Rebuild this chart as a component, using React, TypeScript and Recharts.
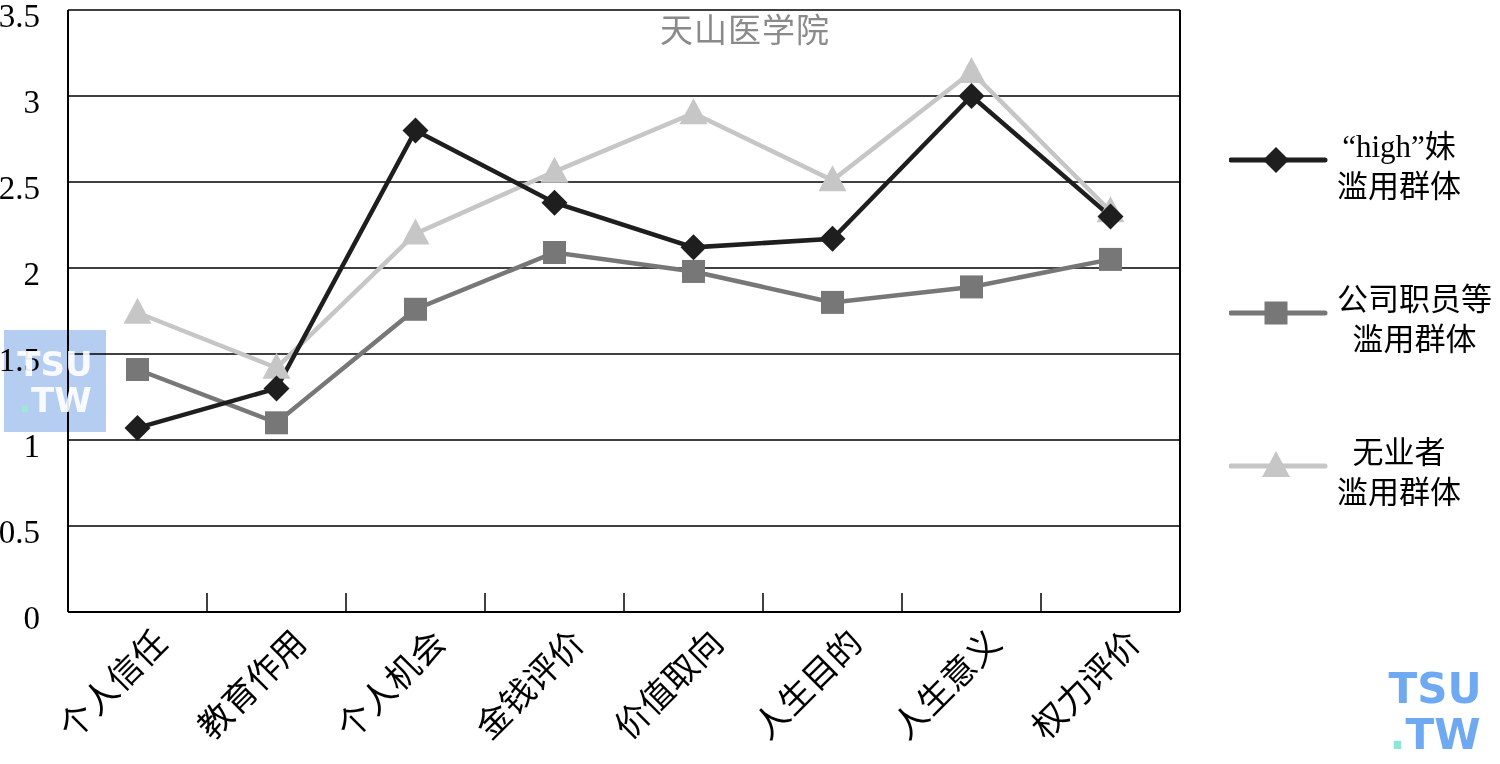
import React from "react";
import {
  LineChart,
  Line,
  XAxis,
  YAxis,
  CartesianGrid,
  Legend,
} from "recharts";

// categories on the x axis
const categories = [
  "个人信任",
  "教育作用",
  "个人机会",
  "金钱评价",
  "价值取向",
  "人生目的",
  "人生意义",
  "权力评价",
];

// series values
const highGirl = [1.07, 1.3, 2.8, 2.38, 2.12, 2.17, 3.0, 2.3];
const staff = [1.41, 1.1, 1.76, 2.09, 1.98, 1.8, 1.89, 2.05];
const jobless = [1.74, 1.42, 2.2, 2.56, 2.9, 2.51, 3.14, 2.33];

const yTicks = [0, 0.5, 1, 1.5, 2, 2.5, 3, 3.5];

const SERIF = "'Liberation Serif', 'Times New Roman', 'Noto Sans CJK SC', serif";
const BAND = 139;

const data = categories.map((name, i) => ({
  name,
  high: highGirl[i],
  staff: staff[i],
  jobless: jobless[i],
}));

type Shape = "diamond" | "square" | "triangle";

const series: {
  key: string;
  lines: string[];
  color: string;
  shape: Shape;
}[] = [
  { key: "high", lines: ["“high”妹", "滥用群体"], color: "#1e1e1e", shape: "diamond" },
  { key: "staff", lines: ["公司职员等", "滥用群体"], color: "#777777", shape: "square" },
  { key: "jobless", lines: ["无业者", "滥用群体"], color: "#c6c6c6", shape: "triangle" },
];

function markerPath(shape: Shape, cx: number, cy: number) {
  if (shape === "diamond") {
    const r = 13;
    return `M${cx},${cy - r} L${cx + r},${cy} L${cx},${cy + r} L${cx - r},${cy} Z`;
  }
  if (shape === "square") {
    const r = 11.5;
    return `M${cx - r},${cy - r} H${cx + r} V${cy + r} H${cx - r} Z`;
  }
  return `M${cx},${cy - 15} L${cx + 14},${cy + 11} L${cx - 14},${cy + 11} Z`;
}

const makeDot = (shape: Shape, color: string) => (props: any) => {
  const { cx, cy, index } = props;
  if (cx == null || cy == null) return <g key={index} />;
  return <path key={index} d={markerPath(shape, cx, cy)} fill={color} />;
};

const XTick = (props: any) => {
  const { x, y, payload, index } = props;
  const tx = x + 32;
  const ty = y + 33;
  return (
    <g>
      {index < categories.length - 1 && (
        <line
          x1={x + BAND / 2}
          x2={x + BAND / 2}
          y1={y}
          y2={y - 19}
          stroke="#000"
          strokeWidth={1.5}
        />
      )}
      <text
        x={tx}
        y={ty}
        textAnchor="end"
        fontSize={34}
        fontFamily={SERIF}
        fill="#000"
        transform={`rotate(-45, ${tx}, ${ty})`}
      >
        {payload.value}
      </text>
    </g>
  );
};

const LegendBox = () => (
  <div style={{ paddingLeft: 48, fontFamily: SERIF, fontSize: 31, color: "#000" }}>
    {series.map((s) => (
      <div
        key={s.key}
        style={{ display: "flex", alignItems: "center", height: 153 }}
      >
        <svg width={100} height={40} style={{ flex: "none" }}>
          <line x1={2} x2={96} y1={18} y2={18} stroke={s.color} strokeWidth={5} strokeLinecap="round" />
          <path d={markerPath(s.shape, 47, 18)} fill={s.color} />
        </svg>
        <div
          style={{
            display: "inline-block",
            textAlign: "center",
            lineHeight: "40px",
            marginLeft: 8,
            marginTop: 10,
            whiteSpace: "nowrap",
          }}
        >
          {s.lines.map((l) => (
            <div key={l}>{l}</div>
          ))}
        </div>
      </div>
    ))}
  </div>
);

export default function App() {
  return (
    <div
      style={{
        position: "absolute",
        left: 0,
        top: 0,
        width: 1500,
        height: 764,
        background: "#fff",
        overflow: "hidden",
      }}
    >
      <LineChart
        width={1500}
        height={764}
        data={data}
        margin={{ top: 10, right: 0, bottom: 0, left: 0 }}
      >
        <CartesianGrid vertical={false} stroke="#000" strokeWidth={1.5} />
        <XAxis
          dataKey="name"
          height={152}
          padding={{ left: BAND / 2, right: BAND / 2 }}
          tickLine={false}
          tickSize={0}
          tickMargin={0}
          interval={0}
          axisLine={{ stroke: "#000", strokeWidth: 2 }}
          tick={<XTick />}
        />
        <YAxis
          width={68}
          domain={[0, 3.5]}
          ticks={yTicks}
          interval={0}
          tickLine={false}
          tickMargin={22}
          axisLine={{ stroke: "#000", strokeWidth: 2 }}
          tick={{ fontSize: 33, fontFamily: SERIF, fill: "#000", dy: 5 }}
        />
        <YAxis
          yAxisId="r"
          orientation="right"
          width={1}
          tick={false}
          tickLine={false}
          axisLine={{ stroke: "#000", strokeWidth: 2 }}
        />
        <Legend
          layout="vertical"
          align="right"
          verticalAlign="top"
          width={319}
          wrapperStyle={{ top: 85, right: 0, width: 319 }}
          content={<LegendBox />}
        />
        <Line
          dataKey="staff"
          stroke={series[1].color}
          strokeWidth={4.5}
          dot={makeDot("square", series[1].color)}
          activeDot={false}
          isAnimationActive={false}
        />
        <Line
          dataKey="jobless"
          stroke={series[2].color}
          strokeWidth={4.5}
          dot={makeDot("triangle", series[2].color)}
          activeDot={false}
          isAnimationActive={false}
        />
        <Line
          dataKey="high"
          stroke={series[0].color}
          strokeWidth={4.5}
          dot={makeDot("diamond", series[0].color)}
          activeDot={false}
          isAnimationActive={false}
        />
      </LineChart>
      <div
        style={{
          position: "absolute",
          left: 660,
          top: 4,
          fontFamily: SERIF,
          fontSize: 33,
          color: "#8a8a8a",
          letterSpacing: 1,
        }}
      >
        天山医学院
      </div>
      <div
        style={{
          position: "absolute",
          left: 4,
          top: 330,
          width: 102,
          height: 102,
          background: "#b4cdf0",
          mixBlendMode: "multiply",
        }}
      />
      <div
        style={{
          position: "absolute",
          left: 4,
          top: 330,
          width: 102,
          height: 102,
          color: "rgba(255,255,255,0.9)",
          fontFamily: "'DejaVu Sans', sans-serif",
          fontWeight: 700,
          fontSize: 34,
          lineHeight: "36px",
          paddingTop: 16,
          boxSizing: "border-box",
          textAlign: "center",
        }}
      >
        <div>TSU</div>
        <div>
          <span style={{ color: "#9fe8d8" }}>.</span>TW
        </div>
      </div>
      <div
        style={{
          position: "absolute",
          left: 1380,
          top: 666,
          width: 110,
          color: "#6ea9f2",
          fontFamily: "'DejaVu Sans', sans-serif",
          fontWeight: 700,
          fontSize: 42,
          lineHeight: "46px",
          textAlign: "center",
        }}
      >
        <div>TSU</div>
        <div>
          <span style={{ color: "#8ee6d8" }}>.</span>TW
        </div>
      </div>
    </div>
  );
}
